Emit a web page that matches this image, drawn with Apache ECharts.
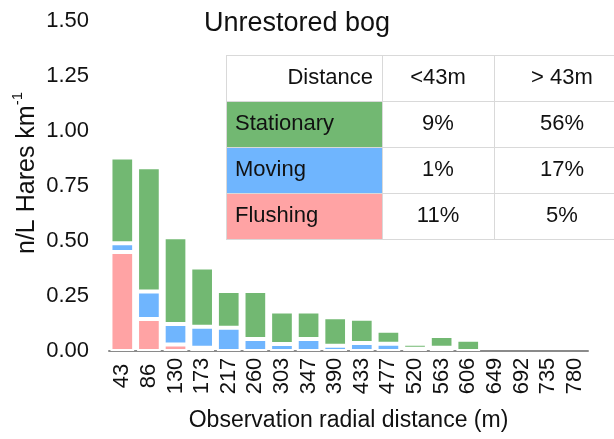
<!DOCTYPE html>
<html>
<head>
<meta charset="utf-8">
<script src="https://cdn.jsdelivr.net/npm/echarts@6/dist/echarts.min.js"></script>
<style>
html,body{margin:0;padding:0;background:#fff;}
#chart{width:614px;height:439px;}
</style>
</head>
<body>
<div id="chart"></div>
<script>
// ---- data ----
const categories = ['43','86','130','173','217','260','303','347','390','433','477','520','563','606','649','692','735','780'];
const flushing   = [0.45, 0.145, 0.03, 0.015, 0, 0, 0, 0, 0, 0, 0, 0, 0, 0, 0, 0, 0, 0];
const moving     = [0.04, 0.125, 0.093, 0.095, 0.106, 0.055, 0.032, 0.055, 0.024, 0.036, 0.033, 0.01, 0.015, 0, 0, 0, 0, 0];
const stationary = [0.39, 0.565, 0.394, 0.27, 0.167, 0.218, 0.147, 0.124, 0.129, 0.111, 0.059, 0.023, 0.053, 0.051, 0, 0, 0, 0];
const seriesNames = ['Flushing', 'Moving', 'Stationary'];
const tableHeader = ['Distance', '<43m', '> 43m'];
const tableRowNames = ['Stationary', 'Moving', 'Flushing'];
const tableLess43 = ['9%', '1%', '11%'];
const tableMore43 = ['56%', '17%', '5%'];
const titleText = 'Unrestored bog';
const xAxisTitle = 'Observation radial distance (m)';

// ---- styles ----
const FONT = '"Liberation Sans", Arial, Helvetica, sans-serif';
const colors = { Flushing: '#ffa3a4', Moving: '#6fb5fe', Stationary: '#72b872' };
const seriesData = { Flushing: flushing, Moving: moving, Stationary: stationary };

const chart = echarts.init(document.getElementById('chart'), null, { renderer: 'canvas' });

const series = seriesNames.map(name => ({
  name: name,
  type: 'bar',
  stack: 'total',
  barCategoryGap: '11%',
  data: seriesData[name].map(v => v === 0 ? '-' : v),
  itemStyle: { color: colors[name], borderColor: '#ffffff', borderWidth: 2 },
  emphasis: { disabled: true },
  animation: false
}));

// table graphics
const tX = 226, tTop = 55, rowH = 46;
const colEdges = [226, 382, 494, 640];
const graphics = [];
graphics.push({ type: 'rect', shape: { x: tX, y: tTop, width: colEdges[3] - tX, height: rowH * 4 }, style: { fill: '#ffffff' }, z: 10 });
tableRowNames.forEach((nm, i) => {
  graphics.push({ type: 'rect', shape: { x: colEdges[0], y: tTop + rowH * (i + 1), width: colEdges[1] - colEdges[0], height: rowH }, style: { fill: colors[nm] }, z: 11 });
});
for (let r = 0; r <= 4; r++) {
  const y = tTop + rowH * r + 0.5;
  graphics.push({ type: 'line', shape: { x1: tX, y1: y, x2: colEdges[3], y2: y }, style: { stroke: '#d9d9d9', lineWidth: 1 }, z: 12 });
}
for (let c = 0; c < 3; c++) {
  const x = colEdges[c] + 0.5;
  graphics.push({ type: 'line', shape: { x1: x, y1: tTop, x2: x, y2: tTop + rowH * 4 }, style: { stroke: '#d9d9d9', lineWidth: 1 }, z: 12 });
}
const cellFont = '22px ' + FONT;
graphics.push({ type: 'text', x: 373, y: tTop + rowH / 2, style: { text: tableHeader[0], font: cellFont, fill: '#111', align: 'right', verticalAlign: 'middle' }, z: 13 });
graphics.push({ type: 'text', x: 438, y: tTop + rowH / 2, style: { text: tableHeader[1], font: cellFont, fill: '#111', align: 'center', verticalAlign: 'middle' }, z: 13 });
graphics.push({ type: 'text', x: 562, y: tTop + rowH / 2, style: { text: tableHeader[2], font: cellFont, fill: '#111', align: 'center', verticalAlign: 'middle' }, z: 13 });
tableRowNames.forEach((nm, i) => {
  const cy = tTop + rowH * (i + 1) + rowH / 2;
  graphics.push({ type: 'text', x: 235, y: cy, style: { text: nm, font: cellFont, fill: '#111', align: 'left', verticalAlign: 'middle' }, z: 13 });
  graphics.push({ type: 'text', x: 438, y: cy, style: { text: tableLess43[i], font: cellFont, fill: '#111', align: 'center', verticalAlign: 'middle' }, z: 13 });
  graphics.push({ type: 'text', x: 562, y: cy, style: { text: tableMore43[i], font: cellFont, fill: '#111', align: 'center', verticalAlign: 'middle' }, z: 13 });
});
// y axis title with superscript
graphics.push({
  type: 'text', x: 25, y: 173, rotation: Math.PI / 2,
  style: {
    text: '{m|n/L Hares km}{s|-1}',
    align: 'center', verticalAlign: 'middle', fill: '#111',
    rich: {
      m: { fontSize: 25, fontFamily: FONT, fill: '#111', lineHeight: 30, verticalAlign: 'bottom' },
      s: { fontSize: 15, fontFamily: FONT, fill: '#111', lineHeight: 30, verticalAlign: 'top', padding: [0, 0, 10, 0] }
    }
  },
  z: 13
});

const option = {
  animation: false,
  backgroundColor: '#ffffff',
  title: {
    text: titleText, left: 204, top: 10, padding: 0,
    textStyle: { fontFamily: FONT, fontSize: 27, fontWeight: 'normal', color: '#111' }
  },
  grid: { left: 109, right: 26, top: 21, bottom: 88, containLabel: false },
  xAxis: {
    type: 'category',
    data: categories,
    name: xAxisTitle,
    nameLocation: 'middle',
    nameGap: 58,
    nameTextStyle: { fontFamily: FONT, fontSize: 23, color: '#111' },
    axisLine: { lineStyle: { color: '#8a8a8a', width: 2 } },
    axisTick: { show: false },
    axisLabel: { rotate: 90, interval: 0, margin: 25, align: 'center', verticalAlign: 'middle', fontFamily: FONT, fontSize: 22, color: '#111' }
  },
  yAxis: {
    type: 'value',
    min: 0, max: 1.5, interval: 0.25,
    axisLine: { show: false },
    axisTick: { show: false },
    splitLine: { show: false },
    axisLabel: { margin: 20, fontFamily: FONT, fontSize: 22, color: '#111', formatter: v => v.toFixed(2) }
  },
  series: series,
  graphic: graphics
};
chart.setOption(option);
</script>
</body>
</html>
